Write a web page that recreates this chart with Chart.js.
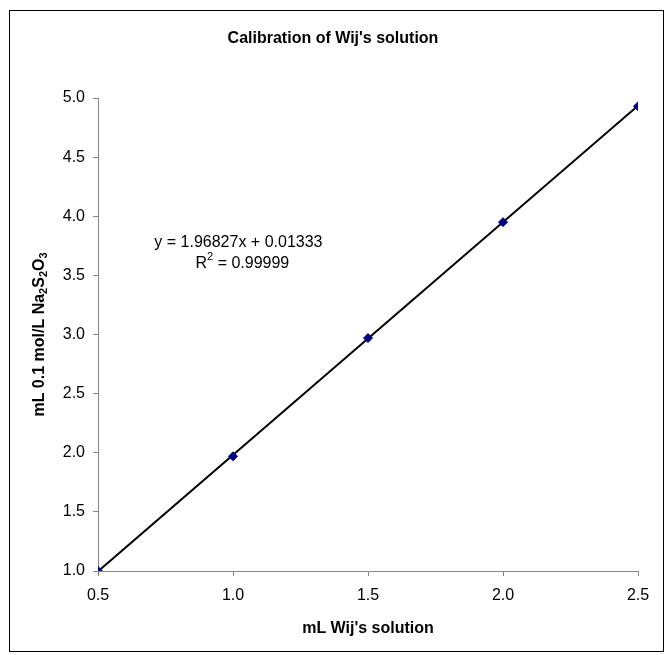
<!DOCTYPE html>
<html>
<head>
<meta charset="utf-8">
<title>Calibration of Wij's solution</title>
<script src="https://cdn.jsdelivr.net/npm/chart.js@4/dist/chart.umd.min.js"></script>
<style>
  html, body { margin: 0; padding: 0; background: #fff; }
  #wrap { position: relative; width: 667px; height: 655px; }
</style>
</head>
<body>
<div id="wrap"><canvas id="chart" width="667" height="655"></canvas></div>
<script>
// measured points (mL Wij's solution -> mL 0.1 mol/L Na2S2O3)
var wijsMl = [0.5, 1.0, 1.5, 2.0, 2.5];
var thioMl = [1.00, 1.97, 2.97, 3.95, 4.93];

// linear trendline, ends
var trendX = [0.5, 2.5];
var trendY = [0.997, 4.934];

var chartTitle = "Calibration of Wij's solution";
var xTitle = "mL Wij's solution";
// y title pieces: [text, isSubscript]
var yTitle = [["mL 0.1 mol/L Na", false], ["2", true], ["S", false], ["2", true], ["O", false], ["3", true]];
var eqText = "y = 1.96827x + 0.01333";
var r2Text = ["R", "2", " = 0.99999"];

var FONT = "'Liberation Sans', Arial, sans-serif";
var AXIS = "#868686";

function pairs(xs, ys) {
  return xs.map(function (x, i) { return { x: x, y: ys[i] }; });
}

// draws a run of text pieces, the small ones shifted by `shift`
function drawPieces(c, pieces, x, y, big, small, shift) {
  var w = 0;
  pieces.forEach(function (p) { c.font = p[1] ? small : big; w += c.measureText(p[0]).width; });
  var cur = x - w / 2;
  pieces.forEach(function (p) {
    c.font = p[1] ? small : big;
    c.fillText(p[0], cur, p[1] ? y + shift : y);
    cur += c.measureText(p[0]).width;
  });
}

// outer frame, title, y title and trendline equation
var extras = {
  id: "extras",
  beforeDraw: function (chart) {
    var c = chart.ctx;
    c.save();
    c.fillStyle = "#fff";
    c.fillRect(0, 0, chart.width, chart.height);
    c.strokeStyle = "#000";
    c.lineWidth = 1;
    c.strokeRect(9.5, 10.5, 654, 641);

    c.fillStyle = "#000";
    c.textAlign = "center";
    c.textBaseline = "middle";
    c.font = "bold 16px " + FONT;
    c.fillText(chartTitle, 333, 39);

    var a = chart.chartArea;
    c.translate(40, (a.top + a.bottom) / 2);
    c.rotate(-Math.PI / 2);
    c.textAlign = "left";
    drawPieces(c, yTitle, 0, 0, "bold 16px " + FONT, "bold 11px " + FONT, 4);
    c.restore();
  },
  afterDatasetsDraw: function (chart) {
    var c = chart.ctx, a = chart.chartArea;
    var cx = a.left + (a.right - a.left) * 0.26;
    var cy = a.top + (a.bottom - a.top) * 0.305;
    c.save();
    c.fillStyle = "#000";
    c.textBaseline = "middle";
    c.textAlign = "center";
    c.font = "16px " + FONT;
    c.fillText(eqText, cx, cy);
    c.textAlign = "left";
    drawPieces(c, [[r2Text[0], false], [r2Text[1], true], [r2Text[2], false]],
      cx + 4, cy + 21, "16px " + FONT, "11px " + FONT, -6);
    c.restore();
  }
};

new Chart(document.getElementById("chart"), {
  type: "scatter",
  data: {
    datasets: [
      {
        label: "data",
        data: pairs(wijsMl, thioMl),
        pointStyle: "rectRot",
        pointRadius: 4.5,
        backgroundColor: "#000080",
        borderColor: "#000080",
        borderWidth: 1,
        showLine: false
      },
      {
        label: "trend",
        data: pairs(trendX, trendY),
        showLine: true,
        borderColor: "#000",
        borderWidth: 2,
        pointRadius: 0,
        fill: false
      }
    ]
  },
  options: {
    responsive: false,
    animation: false,
    layout: { padding: { left: 0, top: 98, right: 29, bottom: 0 } },
    plugins: {
      legend: { display: false },
      tooltip: { enabled: false },
      title: { display: false }
    },
    scales: {
      x: {
        type: "linear",
        min: 0.5,
        max: 2.5,
        afterFit: function (s) { s.height = 84; },
        ticks: {
          stepSize: 0.5,
          color: "#000",
          padding: 10,
          font: { family: FONT, size: 16 },
          callback: function (v) { return v.toFixed(1); }
        },
        grid: { drawOnChartArea: false, tickLength: 5, color: AXIS },
        border: { color: AXIS },
        title: {
          display: true,
          text: xTitle,
          color: "#000",
          font: { family: FONT, size: 16, weight: "bold" },
          padding: { top: 4, bottom: 17 }
        }
      },
      y: {
        type: "linear",
        min: 1,
        max: 5,
        afterFit: function (s) { s.width = 98; },
        ticks: {
          stepSize: 0.5,
          color: "#000",
          padding: 8,
          font: { family: FONT, size: 16 },
          callback: function (v) { return v.toFixed(1); }
        },
        grid: { drawOnChartArea: false, tickLength: 5, color: AXIS },
        border: { color: AXIS }
      }
    }
  },
  plugins: [extras]
});
</script>
</body>
</html>
